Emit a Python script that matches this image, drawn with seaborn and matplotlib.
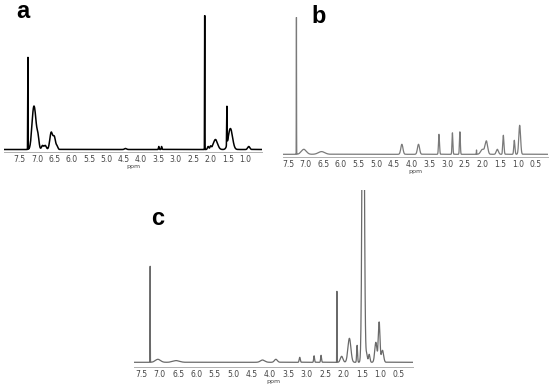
import numpy as np
import pandas as pd
import seaborn as sns
import matplotlib.pyplot as plt
from matplotlib.ticker import MultipleLocator

# peak tables: shift (ppm), height, width (ppm)
a_shift = [7.26, 7.11, 7.05, 6.97, 6.84, 6.76, 6.59, 6.50, 6.42, 4.45, 3.49, 3.41,
           2.17, 2.07, 2.00, 1.86, 1.53, 1.43, 0.90]
a_height = [92, 30, 24, 11, 4, 4, 17, 12, 3, 1, 3, 3,
            134, 3, 3, 10, 38, 21, 3]
a_width = [0.004, 0.045, 0.045, 0.03, 0.03, 0.03, 0.04, 0.035, 0.025, 0.03, 0.01, 0.01,
           0.003, 0.02, 0.02, 0.06, 0.006, 0.06, 0.03]

b_shift = [7.26, 7.05, 6.55, 4.28, 3.81, 3.23, 2.85, 2.64, 2.17, 2.00, 1.89, 1.58,
           1.41, 1.10, 0.95]
b_height = [137, 5, 2.7, 10, 10, 20, 21.5, 22.5, 4.3, 5, 13, 5,
            19, 14, 29]
b_width = [0.003, 0.07, 0.09, 0.03, 0.03, 0.014, 0.012, 0.012, 0.003, 0.05, 0.035, 0.03,
           0.016, 0.016, 0.025]

c_shift = [7.26, 7.05, 6.55, 4.20, 3.84, 3.19, 2.80, 2.61, 2.18, 2.05, 1.84, 1.63,
           1.465, 1.37, 1.30, 1.12, 1.03, 0.94]
c_height = [96, 3, 1.7, 2.3, 3, 5, 6.5, 7, 71, 6, 24, 17,
            400, 8, 8, 20, 40, 12]
c_width = [0.003, 0.07, 0.09, 0.06, 0.04, 0.015, 0.012, 0.012, 0.003, 0.035, 0.04, 0.012,
           0.028, 0.02, 0.02, 0.03, 0.022, 0.03]

tick_labels = ["7.5", "7.0", "6.5", "6.0", "5.5", "5.0", "4.5", "4.0", "3.5", "3.0",
               "2.5", "2.0", "1.5", "1.0", "0.5"]


def spectrum(shift, height, width, lo, hi):
    x = np.linspace(lo, hi, 24000)
    y = np.zeros_like(x)
    for s, h, w in zip(shift, height, width):
        y += h * np.exp(-0.5 * ((x - s) / w) ** 2)
    return pd.DataFrame({"ppm": x, "I": y})


sns.set_style("white")
plt.rcParams['font.family'] = ['DejaVu Sans']

W, H = 550, 388
fig = plt.figure(figsize=(5.5, 3.88), dpi=100)


def panel(px_left, px_right, px_bottom, px_top, xlim, ylim, df, color, lw, ppm_y, letter, letter_xy):
    ax = fig.add_axes([px_left / W, 1 - px_bottom / H,
                       (px_right - px_left) / W, (px_bottom - px_top) / H])
    sns.lineplot(data=df, x="ppm", y="I", ax=ax, color=color, linewidth=lw,
                 estimator=None, sort=False)
    ax.set_xlim(*xlim)
    ax.set_ylim(*ylim)
    ax.xaxis.set_minor_locator(MultipleLocator(0.1))
    ticks = [float(t) for t in tick_labels if xlim[1] < float(t) < xlim[0]]
    ax.set_xticks(ticks)
    ax.set_xticklabels([f"{t:.1f}" for t in ticks])
    ax.tick_params(axis='x', which='major', length=1.5, width=0.5, color='#aaaaaa',
                   labelsize=5.5, labelcolor='#444444', pad=0.8)
    ax.tick_params(axis='x', which='minor', length=1.0, width=0.4, color='#bbbbbb')
    ax.set_yticks([])
    for side in ['left', 'right', 'top']:
        ax.spines[side].set_visible(False)
    ax.spines['bottom'].set_color('#b0b0b0')
    ax.spines['bottom'].set_linewidth(0.7)
    ax.set_xlabel("")
    ax.set_ylabel("")
    fig.text((px_left + px_right) / 2 / W, 1 - ppm_y / H, "ppm", ha='center', va='center',
             fontsize=4.5, color='#444444')
    fig.text(letter_xy[0] / W, 1 - letter_xy[1] / H, letter, ha='left', va='baseline',
             fontsize=17, fontweight='bold', family='Liberation Sans', color='black')
    ax.patch.set_alpha(0)
    return ax


df_a = spectrum(a_shift, a_height, a_width, 0.4, 8.0)
df_b = spectrum(b_shift, b_height, b_width, 0.1, 7.7)
df_c = spectrum(c_shift, c_height, c_width, 0.05, 7.75)

panel(4, 262, 152, 15, (7.95, 0.52), (-2.5, 134.5), df_a, 'black', 1.1, 166.5, "a", (16, 18.5))
panel(283, 548, 156.7, 16.7, (7.64, 0.15), (-2.4, 137.6), df_b, '#7a7a7a', 0.9, 171.5, "b", (311, 23.3))
panel(134, 413, 366.7, 190, (7.70, 0.11), (-4.4, 172.3), df_c, '#6a6a6a', 0.9, 382, "c", (151, 225))

fig.savefig("out.png", dpi=100)
